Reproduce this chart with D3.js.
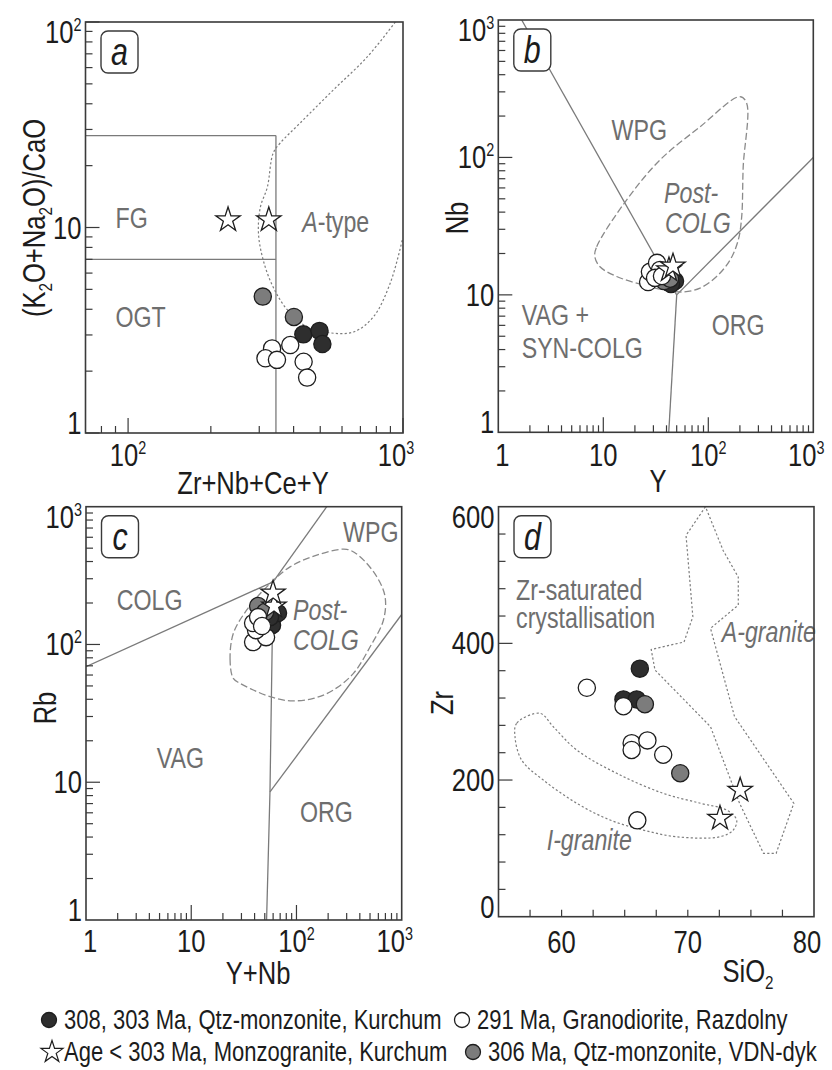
<!DOCTYPE html>
<html>
<head>
<meta charset="utf-8">
<script src="https://cdn.jsdelivr.net/npm/d3@7/dist/d3.min.js"></script>
<style>
  body { margin: 0; background: #fff; }
  svg { display: block; }
  text { font-family: "Liberation Sans Narrow", "Arial Narrow", "Liberation Sans", Arial, sans-serif; }
</style>
</head>
<body>
<svg id="chart" width="832" height="1070"></svg>
<script>
// ---- Sample groups -------------------------------------------------------
const groupNames = [
  "308, 303 Ma, Qtz-monzonite, Kurchum",
  "291 Ma, Granodiorite, Razdolny",
  "Age < 303 Ma, Monzogranite, Kurchum",
  "306 Ma, Qtz-monzonite, VDN-dyk"
];

// ---- (a) Zr+Nb+Ce+Y vs (K2O+Na2O)/CaO  [x, y] ----------------------------
const aKurchum      = [[434, 3.02], [497, 3.14], [509, 2.71]];
const aVdn          = [[309, 4.61], [401, 3.67]];
const aRazdolny     = [[334, 2.58], [316, 2.31], [348, 2.27], [389, 2.68], [435, 2.22], [448, 1.86]];
const aMonzogranite = [[231, 10.9], [325, 10.9]];
const aFgTop        = [[70, 28], [345, 28]];
const aFgBottom     = [[70, 7], [345, 7]];
const aFgRight      = [[345, 28], [345, 1]];
const aATypeCurve   = [[938, 100], [741, 67.6], [558, 46.7], [423, 32.3], [358, 25.8], [337, 23.0],
                       [321, 15.7], [303, 12.6], [298, 9.4], [310, 6.95], [337, 5.13], [380, 3.97],
                       [449, 3.28], [544, 3.07], [660, 3.10], [780, 3.67], [899, 5.37], [994, 8.7]];
const aFields       = [["FG", 90, 9.95], ["OGT", 90, 3.28], ["A-type", 430, 9.5]];

// ---- (b) Y vs Nb --------------------------------------------------------------
const bKurchum      = [[41.3, 12.4], [48.2, 12.6], [44.1, 12.0]];
const bVdn          = [[37.9, 12.6], [43.2, 13.1]];
const bRazdolny     = [[26.7, 12.4], [27.8, 14.7], [32.5, 17.1], [34.7, 15.2], [31.1, 13.3], [36.2, 13.7]];
const bMonzogranite = [[42.2, 15.2], [46.1, 16.2]];
const bWpgVag       = [[1.67, 1000], [50, 10]];
const bVagOrg       = [[42, 1], [50, 10]];
const bWpgOrg       = [[50, 10], [1000, 100]];
const bPostColg     = [[8.3, 19.0], [8.65, 22.4], [16.7, 49.1], [34.7, 95.9], [83.4, 167], [200, 277],
                       [232, 248], [215, 85.7], [208, 37.1], [193, 25.1], [161, 17.9], [120, 13.6],
                       [83.4, 11.2], [57.8, 10.5], [37.3, 10.9], [24.0, 11.8], [13.4, 13.6], [9.3, 16.0]];
const bFields       = [["WPG", 12.0, 134], ["VAG +", 1.67, 6.04], ["SYN-COLG", 1.67, 3.47], ["ORG", 108, 5.11]];
const bPostLabel    = [["Post-", 37.9, 46.7], ["COLG", 38.7, 28.2]];

// ---- (c) Y+Nb vs Rb -------------------------------------------------------------
const cKurchum      = [[58.6, 138], [66.8, 169], [56.1, 158]];
const cVdn          = [[43.2, 190], [50.3, 172]];
const cRazdolny     = [[38.7, 104], [51.4, 113], [41.3, 127], [38.7, 143], [43.2, 158], [47.1, 136]];
const cMonzogranite = [[61.2, 190], [59.9, 236]];
const cColgVag      = [[1, 69], [60, 285]];
const cWpgColg      = [[60, 285], [194, 1000]];
const cVagOrg       = [[60, 285], [56, 8.5], [52, 1]];
const cWpgOrg       = [[56, 8.5], [1000, 165]];
const cPostColg     = [[25.1, 56.7], [23.4, 77.1], [25.1, 120], [33.7, 178], [52.2, 262], [86.9, 366],
                       [156, 445], [301, 490], [402, 433], [580, 310], [695, 222], [670, 150],
                       [501, 96.2], [348, 61.7], [224, 46.7], [145, 40.6], [86.9, 39.0], [56.1, 41.8],
                       [38.9, 46.7], [29.1, 52.2]];
const cFields       = [["WPG", 277, 556], ["COLG", 1.96, 178], ["VAG", 4.7, 12.7], ["ORG", 108, 5.17]];
const cPostLabel    = [["Post-", 92.9, 150], ["COLG", 92.9, 91]];

// ---- (d) SiO2 vs Zr -------------------------------------------------------------
const dKurchum      = [[66.2, 363], [64.9, 318], [65.95, 318]];
const dVdn          = [[66.6, 311], [69.4, 210]];
const dRazdolny     = [[62.0, 335], [64.9, 308], [65.55, 254], [65.55, 244], [66.8, 258], [68.05, 237], [66.0, 141]];
const dMonzogranite = [[74.15, 185], [72.55, 144]];
const dAGranite     = [[71.4, 600], [69.86, 558], [70.4, 439], [69.7, 402], [67.1, 391], [67.4, 361],
                       [71.8, 278], [74.1, 166], [76.0, 92.7], [77.0, 92.7], [78.4, 166], [73.7, 293],
                       [71.8, 422], [74.0, 456], [74.0, 497], [72.8, 536]];
const dIGranite     = [[58.29, 297.6], [56.44, 283], [56.31, 263], [56.84, 229], [58.55, 200], [61.2, 166],
                       [63.84, 141.5], [66.47, 126.8], [69.1, 117], [72.55, 117], [73.6, 126.8], [73.87, 141.5],
                       [73.08, 156], [71.0, 166], [68.06, 180.5], [64.37, 209.8], [61.2, 243.9], [59.34, 278]];
const dFields       = [["Zr-saturated", 56.39, 463], ["crystallisation", 56.39, 422]];
const dItalic       = [["A-granite", 72.69, 402], ["I-granite", 58.82, 97.6]];

// ---- Tick labels (value, base, exponent) --------------------------------------------
const aXLabels = [[100, "10", "2"], [1000, "10", "3"]];
const aYLabels = [[1, "1", ""], [10, "10", ""], [100, "10", "2"]];
const bcLabels = [[1, "1", ""], [10, "10", ""], [100, "10", "2"], [1000, "10", "3"]];
const dXLabels = [[60, "60", ""], [70, "70", ""], [80, "80", ""]];
const dYLabels = [[0, "0", ""], [200, "200", ""], [400, "400", ""], [600, "600", ""]];
const dXMinor  = [57.5, 60, 62.5, 65, 67.5, 70, 72.5, 75, 77.5];
const dYMinor  = [40, 80, 120, 160, 240, 280, 320, 360, 440, 480, 520, 560];
const dYMajor  = [200, 400];

// ---- Styling -----------------------------------------------------------------
const C = { frame: "#3a3a3a", line: "#7a7a7a", field: "#6e6e6e", text: "#1c1c1c",
            black: "#2e2e2e", gray: "#7c7c7c", white: "#ffffff", stroke: "#1e1e1e" };
const R = 8.6;            // sample circle radius
const NARROW = 0.8;       // horizontal squeeze giving a condensed sans face
const starSym = d3.symbol().type(d3.symbolStar).size(185);

const svg = d3.select("#chart");

// condensed text placed at (x, y); optional vertical orientation
function T(parent, x, y, size, rot) {
  return parent.append("text")
    .attr("transform", `translate(${x},${y})${rot ? " rotate(-90)" : ""} scale(${NARROW},1)`)
    .attr("font-size", size);
}

// log-axis tick values inside a domain
function logTicks(lo, hi) {
  const out = [];
  for (let e = Math.floor(Math.log10(lo)); e <= Math.ceil(Math.log10(hi)); e++) {
    for (let k = 1; k <= 9; k++) {
      const v = k * Math.pow(10, e);
      if (v >= lo * 0.999 && v <= hi * 1.001) out.push({ v, major: k === 1 });
    }
  }
  return out;
}

function addLabel(sel, base, exp, supSize) {
  sel.append("tspan").text(base);
  if (exp) sel.append("tspan").attr("dy", -12).attr("font-size", supSize).text(exp);
}

function panel(cfg) {
  const { id, xs, ys, clipId } = cfg;
  const [x0, x1] = xs.range(), [y0, y1] = ys.range(); // y0 bottom, y1 top
  const g = svg.append("g");

  g.append("clipPath").attr("id", clipId)
    .append("rect").attr("x", x0).attr("y", y1).attr("width", x1 - x0).attr("height", y0 - y1);
  const inner = g.append("g").attr("clip-path", `url(#${clipId})`);

  const line = d3.line().x(d => xs(d[0])).y(d => ys(d[1]));

  (cfg.lines || []).forEach(L => inner.append("path").attr("d", line(L))
    .attr("fill", "none").attr("stroke", C.line).attr("stroke-width", 1.3));

  (cfg.curves || []).forEach(cv => {
    const gen = d3.line().x(d => xs(d[0])).y(d => ys(d[1])).curve(cv.curve);
    inner.append("path").attr("d", gen(cv.data)).attr("fill", "none")
      .attr("stroke", cv.color || "#8a8a8a").attr("stroke-width", cv.width || 1.2)
      .attr("stroke-dasharray", cv.dash);
  });

  // field names
  (cfg.fields || []).forEach(f => T(g, xs(f[1]), ys(f[2]), 29).attr("fill", C.field).text(f[0]));
  (cfg.italic || []).forEach(f => T(g, xs(f[1]), ys(f[2]), 29)
    .attr("font-style", "italic").attr("fill", C.field).text(f[0]));
  if (cfg.atype) {
    const t = T(g, xs(cfg.atype[1]), ys(cfg.atype[2]), 29).attr("fill", C.field);
    t.append("tspan").attr("font-style", "italic").text("A");
    t.append("tspan").text("-type");
  }

  // samples
  const pts = inner.append("g");
  const circles = (data, fill) => pts.selectAll(null).data(data).enter().append("circle")
    .attr("cx", d => xs(d[0])).attr("cy", d => ys(d[1])).attr("r", R)
    .attr("fill", fill).attr("stroke", C.stroke).attr("stroke-width", 1.3);
  circles(cfg.kurchum, C.black);
  circles(cfg.vdn, C.gray);
  circles(cfg.razdolny, C.white);
  pts.selectAll(null).data(cfg.monzo).enter().append("path")
    .attr("d", starSym).attr("transform", d => `translate(${xs(d[0])},${ys(d[1])})`)
    .attr("fill", "#fff").attr("stroke", C.stroke).attr("stroke-width", 1.3);

  // frame
  g.append("rect").attr("x", x0).attr("y", y1).attr("width", x1 - x0).attr("height", y0 - y1)
    .attr("fill", "none").attr("stroke", C.frame).attr("stroke-width", 1.6);

  // ticks (inward)
  cfg.xTicks.forEach(t => g.append("line").attr("x1", xs(t.v)).attr("x2", xs(t.v))
    .attr("y1", y0).attr("y2", y0 - (t.major ? 15 : 7)).attr("stroke", C.frame).attr("stroke-width", 1.2));
  cfg.yTicks.forEach(t => g.append("line").attr("y1", ys(t.v)).attr("y2", ys(t.v))
    .attr("x1", x0).attr("x2", x0 + (t.major ? 14 : 7)).attr("stroke", C.frame).attr("stroke-width", 1.2));

  // tick labels
  cfg.xLabels.forEach(l => {
    const x = Math.max(x0 + 4, Math.min(x1 - 7, xs(l[0])));
    const t = T(g, x, y0 + cfg.xLabelDy, 32).attr("text-anchor", "middle").attr("fill", C.text);
    addLabel(t, l[1], l[2], 18);
  });
  cfg.yLabels.forEach(l => {
    const y = Math.max(y1 + 10, Math.min(y0 - 10, ys(l[0])));
    const t = T(g, x0 - 4, y + 11, 32).attr("text-anchor", "end").attr("fill", C.text);
    addLabel(t, l[1], l[2], 18);
  });

  // panel letter
  g.append("rect").attr("x", x0 + 15.5).attr("y", y1 + 9).attr("width", 37).attr("height", 42)
    .attr("rx", 7).attr("fill", "#fff").attr("stroke", C.frame).attr("stroke-width", 1.4);
  T(g, x0 + 34, y1 + 43, 38).attr("text-anchor", "middle")
    .attr("font-style", "italic").attr("fill", C.text).text(id);
  return g;
}

// ---- Scales ----------------------------------------------------------------------
const axA = d3.scaleLog().domain([70, 1000]).range([85.5, 403]);
const ayA = d3.scaleLog().domain([1, 100]).range([433, 22]);
const axB = d3.scaleLog().domain([1, 1000]).range([498.3, 813.3]);
const ayB = d3.scaleLog().domain([1, 1000]).range([432.3, 20]);
const axC = d3.scaleLog().domain([1, 1000]).range([86, 401.7]);
const ayC = d3.scaleLog().domain([1, 1000]).range([920, 506.7]);
const axD = d3.scaleLinear().domain([55, 80]).range([498.5, 814]);
const ayD = d3.scaleLinear().domain([0, 600]).range([916.7, 506.7]);

const rom = d3.curveCatmullRom.alpha(0.5);
const romClosed = d3.curveCatmullRomClosed.alpha(0.5);

panel({ id: "a", xs: axA, ys: ayA, clipId: "clipA",
  lines: [aFgTop, aFgBottom, aFgRight],
  curves: [{ data: aATypeCurve, curve: rom, dash: "2.2,2.2", color: "#7d7d7d", width: 1.2 }],
  fields: aFields.slice(0, 2), atype: aFields[2],
  kurchum: aKurchum, vdn: aVdn, razdolny: aRazdolny, monzo: aMonzogranite,
  xTicks: logTicks(70, 1000).filter(t => t.v > 70), yTicks: logTicks(1, 100),
  xLabels: aXLabels, yLabels: aYLabels, xLabelDy: 33 });

panel({ id: "b", xs: axB, ys: ayB, clipId: "clipB",
  lines: [bWpgVag, bVagOrg, bWpgOrg],
  curves: [{ data: bPostColg, curve: romClosed, dash: "7,3", color: "#8a8a8a", width: 1.3 }],
  fields: bFields, italic: bPostLabel,
  kurchum: bKurchum, vdn: bVdn, razdolny: bRazdolny, monzo: bMonzogranite,
  xTicks: logTicks(1, 1000).filter(t => t.v > 1 && t.v < 1000), yTicks: logTicks(1, 1000).filter(t => t.v > 1 && t.v < 1000),
  xLabels: bcLabels, yLabels: bcLabels, xLabelDy: 34 });

panel({ id: "c", xs: axC, ys: ayC, clipId: "clipC",
  lines: [cColgVag, cWpgColg, cVagOrg, cWpgOrg],
  curves: [{ data: cPostColg, curve: romClosed, dash: "7,3", color: "#8a8a8a", width: 1.3 }],
  fields: cFields, italic: cPostLabel,
  kurchum: cKurchum, vdn: cVdn, razdolny: cRazdolny, monzo: cMonzogranite,
  xTicks: logTicks(1, 1000).filter(t => t.v > 1 && t.v < 1000), yTicks: logTicks(1, 1000).filter(t => t.v > 1 && t.v < 1000),
  xLabels: bcLabels, yLabels: bcLabels, xLabelDy: 32 });

panel({ id: "d", xs: axD, ys: ayD, clipId: "clipD",
  lines: [],
  curves: [{ data: dAGranite, curve: d3.curveLinearClosed, dash: "2.2,2.2", color: "#7d7d7d", width: 1.2 },
           { data: dIGranite, curve: romClosed, dash: "2.2,2.2", color: "#7d7d7d", width: 1.2 }],
  fields: dFields, italic: dItalic,
  kurchum: dKurchum, vdn: dVdn, razdolny: dRazdolny, monzo: dMonzogranite,
  xTicks: dXMinor.map(v => ({ v, major: false })),
  yTicks: dYMinor.map(v => ({ v, major: false })).concat(dYMajor.map(v => ({ v, major: true }))),
  xLabels: dXLabels, yLabels: dYLabels, xLabelDy: 36 });

// ---- Axis titles -----------------------------------------------------------------
function title(x, y, parts, rotate) {
  const t = T(svg, x, y, 32, rotate).attr("fill", C.text).attr("text-anchor", "middle");
  parts.forEach(p => {
    if (p.sub) t.append("tspan").attr("dy", 7).attr("font-size", 19).text(p.s);
    else t.append("tspan").attr("dy", p.after ? -7 : 0).text(p.s);
  });
}
title(253, 494, [{ s: "Zr+Nb+Ce+Y" }]);
title(658, 492, [{ s: "Y" }]);
title(258, 984, [{ s: "Y+Nb" }]);
title(748, 982, [{ s: "SiO" }, { s: "2", sub: true }]);
title(45, 218, [{ s: "(K" }, { s: "2", sub: true }, { s: "O+Na", after: true }, { s: "2", sub: true }, { s: "O)/CaO", after: true }], true);
title(468, 218, [{ s: "Nb" }], true);
title(56, 708, [{ s: "Rb" }], true);
title(453, 703, [{ s: "Zr" }], true);

// ---- Legend ----------------------------------------------------------------------
const legend = [
  { name: groupNames[0], kind: "circle", fill: C.black, x: 49, y: 1020 },
  { name: groupNames[1], kind: "circle", fill: C.white, x: 462, y: 1020 },
  { name: groupNames[2], kind: "star",   fill: "#fff",  x: 52, y: 1052 },
  { name: groupNames[3], kind: "circle", fill: C.gray,  x: 473, y: 1052 }
];
legend.forEach(l => {
  if (l.kind === "circle") {
    svg.append("circle").attr("cx", l.x).attr("cy", l.y).attr("r", 7.5)
      .attr("fill", l.fill).attr("stroke", C.stroke).attr("stroke-width", 1.3);
  } else {
    svg.append("path").attr("d", d3.symbol().type(d3.symbolStar).size(150))
      .attr("transform", `translate(${l.x},${l.y})`).attr("fill", "#fff")
      .attr("stroke", C.stroke).attr("stroke-width", 1.2);
  }
  T(svg, l.x + (l.kind === "star" ? 12 : 15), l.y + 9, 27.5).attr("fill", C.text).text(l.name);
});
</script>
</body>
</html>
